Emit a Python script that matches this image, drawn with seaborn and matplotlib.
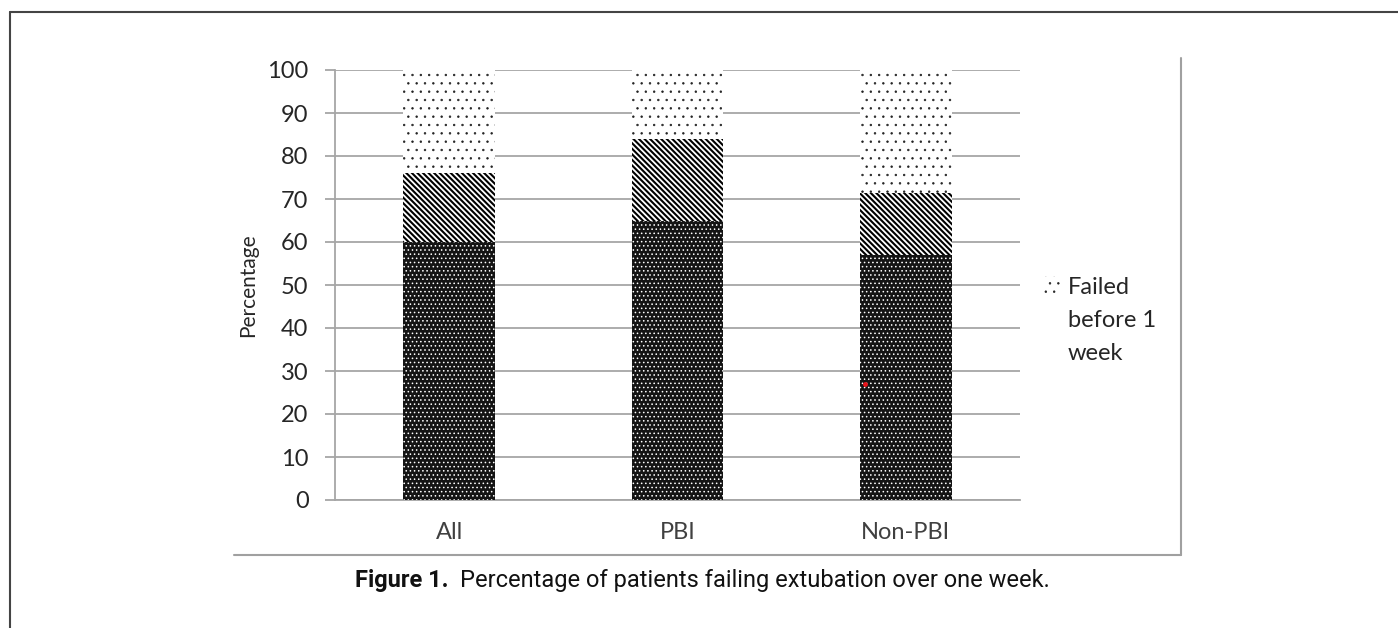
import numpy as np
import pandas as pd
import matplotlib
matplotlib.use("Agg")
import matplotlib.pyplot as plt
import matplotlib.patches as mpatches
from matplotlib.lines import Line2D
import seaborn as sns

# data (percent of patients per group)
groups = ["All", "PBI", "Non-PBI"]
success = [60, 65, 57]              # dark dotted segment
failed_early = [16, 19, 14.5]       # diagonal hatched segment
failed_week = [24, 16, 28.5]        # light dotted segment (legend entry)
legend_label = "Failed\nbefore 1\nweek"
y_ticks = list(range(0, 101, 10))
stray_mark = (1.82, 27)             # small red dot visible in the original

sns.set_theme(style="white")
plt.rcParams["font.family"] = ["Lato", "DejaVu Sans"]

df = pd.DataFrame({"group": groups, "success": success,
                   "failed_early": failed_early, "failed_week": failed_week})
df["top1"] = df["success"] + df["failed_early"]
df["top2"] = df["top1"] + df["failed_week"]

W, H = 1398, 628
fig = plt.figure(figsize=(W / 100, H / 100), dpi=100)
ax = fig.add_axes([335 / W, (H - 500) / H, (1020 - 335) / W, 430 / H])

grid_col = "#a6a6a6"

# stacked bars drawn as overlapping cumulative heights
with plt.rc_context({"hatch.linewidth": 0.5}):
    sns.barplot(data=df, x="group", y="top2", color="white", saturation=1,
                width=0.4, edgecolor="#222222", linewidth=0, hatch="..",
                errorbar=None, ax=ax, zorder=2)
with plt.rc_context({"hatch.linewidth": 1.5}):
    sns.barplot(data=df, x="group", y="top1", color="white", saturation=1,
                width=0.4, edgecolor="black", linewidth=0,
                hatch="\\\\\\\\\\\\", errorbar=None, ax=ax, zorder=3)
with plt.rc_context({"hatch.linewidth": 0.6}):
    sns.barplot(data=df, x="group", y="success", color="#141414",
                saturation=1, width=0.4, edgecolor="white", linewidth=0,
                hatch="....", errorbar=None, ax=ax, zorder=4)

ax.plot(stray_mark[0], stray_mark[1], "o", color="#e8141b", ms=3.5,
        mec="none", zorder=5)

ax.set_ylim(0, 100)
ax.set_xlim(-0.5, 2.5)
ax.set_yticks(y_ticks)
ax.set_axisbelow(True)
ax.yaxis.grid(True, color=grid_col, lw=1.3)
ax.xaxis.grid(False)

for side in ["top", "right"]:
    ax.spines[side].set_visible(False)
for side in ["left", "bottom"]:
    ax.spines[side].set_color(grid_col)
    ax.spines[side].set_linewidth(1.3)

ax.set_xticks([-0.5, 0.5, 1.5, 2.5], minor=True)
ax.tick_params(axis="x", which="major", length=0, pad=16,
               labelsize=17, labelcolor="#404040")
ax.tick_params(axis="x", which="minor", length=7, width=1.3,
               color=grid_col, direction="out")
ax.tick_params(axis="y", which="major", length=7, width=1.3,
               color=grid_col, direction="out", left=True, pad=12,
               labelsize=17, labelcolor="#262626")
ax.set_xlabel("")
ax.set_ylabel("Percentage", fontsize=15, color="#262626")
ax.yaxis.set_label_coords(-0.112, 0.5)

# legend (only the top series is visible in the original crop)
px = lambda x, y: (x / W, (H - y) / H)
lx, ly = px(1043, 293)
with plt.rc_context({"hatch.linewidth": 0.5}):
    fig.add_artist(mpatches.Rectangle((lx, ly), 17 / W, 17 / H,
                                      transform=fig.transFigure,
                                      facecolor="white", edgecolor="#222222",
                                      hatch="..", linewidth=0))
tx, ty = px(1068, 277)
fig.text(tx, ty, legend_label, fontsize=17, color="#262626",
         va="top", ha="left", linespacing=1.7)

# frame lines of the embedded chart image and of the figure box
frame = "#a0a0a0"
fig.add_artist(Line2D([234 / W, 1181 / W], [(H - 555) / H] * 2,
                      transform=fig.transFigure, color=frame, lw=1.5))
fig.add_artist(Line2D([1181 / W] * 2, [(H - 58) / H, (H - 555) / H],
                      transform=fig.transFigure, color=frame, lw=1.5))
fig.add_artist(Line2D([10 / W, 1.0], [(H - 12) / H] * 2,
                      transform=fig.transFigure, color="#444444", lw=1.5))
fig.add_artist(Line2D([10 / W] * 2, [(H - 12) / H, 0],
                      transform=fig.transFigure, color="#444444", lw=1.5))

# caption
cx, cy = px(355, 581)
t1 = fig.text(cx, cy, "Figure 1.", fontsize=17, fontweight="bold",
              family=["Roboto", "DejaVu Sans"], va="center", color="#111111")
fig.canvas.draw()
bb = t1.get_window_extent(fig.canvas.get_renderer())
fig.text((bb.x1 + 12) / W, cy,
         "Percentage of patients failing extubation over one week.",
         fontsize=17, family=["Roboto", "DejaVu Sans"], va="center",
         color="#111111")

fig.savefig("out.png", dpi=100)
